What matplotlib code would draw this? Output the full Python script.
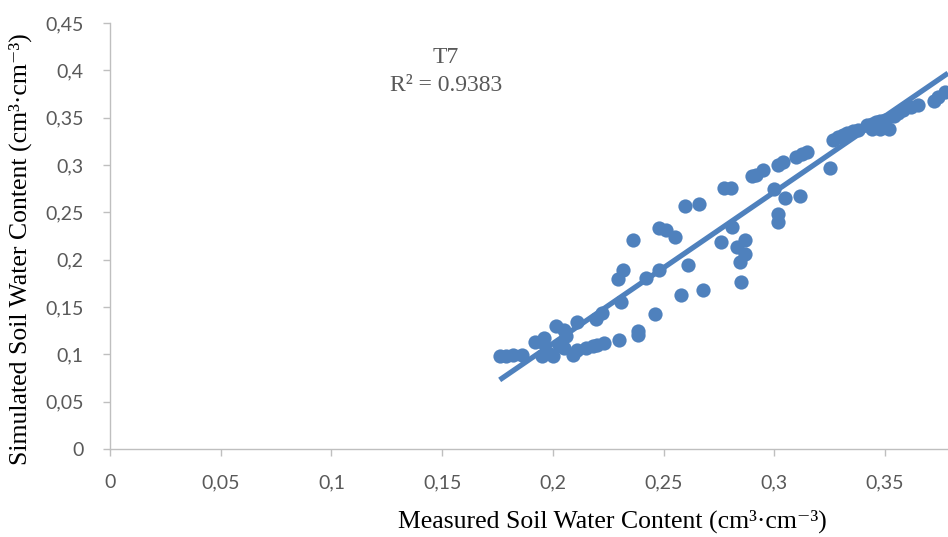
import matplotlib
matplotlib.use("Agg")
import matplotlib.pyplot as plt
import numpy as np

serif = "Liberation Serif"

measured = [0.176, 0.179, 0.182, 0.186, 0.192, 0.195, 0.196, 0.195, 0.198, 0.200,
            0.2015, 0.205, 0.206, 0.203, 0.205, 0.209, 0.211, 0.211, 0.215, 0.218,
            0.220, 0.223, 0.2195, 0.222, 0.230, 0.231, 0.2295, 0.2315, 0.2385, 0.2385,
            0.236, 0.242, 0.246, 0.248, 0.248, 0.251, 0.255, 0.258, 0.261, 0.2595,
            0.266, 0.268, 0.276, 0.2775, 0.2805, 0.281, 0.283, 0.2845, 0.285, 0.287,
            0.287, 0.290, 0.292, 0.295, 0.300, 0.3015, 0.3015, 0.3015, 0.304, 0.305,
            0.310, 0.3125, 0.315, 0.3115, 0.325, 0.3265, 0.329, 0.331, 0.333, 0.3355,
            0.338, 0.342, 0.344, 0.346, 0.348, 0.350, 0.344, 0.348, 0.352, 0.354,
            0.356, 0.358, 0.362, 0.365, 0.372, 0.374, 0.377]
simulated = [0.098, 0.098, 0.099, 0.099, 0.113, 0.113, 0.117, 0.098, 0.101, 0.098,
             0.130, 0.126, 0.119, 0.110, 0.107, 0.099, 0.134, 0.105, 0.107, 0.109,
             0.110, 0.112, 0.137, 0.144, 0.115, 0.155, 0.180, 0.189, 0.125, 0.120,
             0.221, 0.181, 0.143, 0.189, 0.233, 0.231, 0.224, 0.163, 0.194, 0.257,
             0.259, 0.168, 0.219, 0.276, 0.276, 0.234, 0.213, 0.198, 0.176, 0.221,
             0.206, 0.288, 0.289, 0.295, 0.275, 0.240, 0.248, 0.300, 0.303, 0.265,
             0.308, 0.312, 0.314, 0.267, 0.297, 0.326, 0.330, 0.332, 0.334, 0.336,
             0.337, 0.342, 0.343, 0.345, 0.347, 0.348, 0.338, 0.338, 0.338, 0.352,
             0.355, 0.358, 0.361, 0.363, 0.368, 0.372, 0.377]

x_ticks = [0, 0.05, 0.1, 0.15, 0.2, 0.25, 0.3, 0.35]
x_tick_labels = ["0", "0,05", "0,1", "0,15", "0,2", "0,25", "0,3", "0,35"]
y_ticks = [0, 0.05, 0.1, 0.15, 0.2, 0.25, 0.3, 0.35, 0.4, 0.45]
y_tick_labels = ["0", "0,05", "0,1", "0,15", "0,2", "0,25", "0,3", "0,35", "0,4", "0,45"]

trend_slope = 1.60
trend_intercept = -0.2086
series_name = "T7"
r2_text = "R\u00b2 = 0.9383"
x_title = "Measured Soil Water Content (cm\u00b3\u00b7cm\u207b\u00b3)"
y_title = "Simulated Soil Water Content (cm\u00b3\u00b7cm\u207b\u00b3)"

blue = "#4F81BD"
gray_axis = "#BFBFBF"
gray_text = "#595959"

fig = plt.figure(figsize=(9.48, 5.37), dpi=100)
ax = fig.add_axes([110/948, 1-449/537, 1-110/948, (449-23)/537])

ax.scatter(measured, simulated, s=105, color=blue, zorder=3, linewidths=0, clip_on=False)
tx = np.array([min(measured), 0.3785])
ax.plot(tx, trend_slope*tx + trend_intercept, color=blue, lw=3.8, zorder=2, solid_capstyle='butt')

ax.set_xlim(0, 0.3785)
ax.set_ylim(0, 0.45)
ax.set_xticks(x_ticks)
ax.set_xticklabels(x_tick_labels)
ax.set_yticks(y_ticks)
ax.set_yticklabels(y_tick_labels)

for s in ["top", "right"]:
    ax.spines[s].set_visible(False)
for s in ["left", "bottom"]:
    ax.spines[s].set_color(gray_axis)
    ax.spines[s].set_linewidth(1.0)
ax.tick_params(axis="both", direction="out", length=5, color=gray_axis, width=1.0,
               labelcolor=gray_text, labelsize=14)
ax.tick_params(axis="x", pad=13)
ax.tick_params(axis="y", pad=14)
for lab in ax.get_xticklabels() + ax.get_yticklabels():
    lab.set_fontfamily("Lato")

fam = [serif, "DejaVu Serif"]
fig.text(612/948, 1-521/537, x_title,
         ha="center", va="center", fontsize=18.5, family=fam, color="black")
fig.text(20/948, 1-249/537, y_title,
         ha="center", va="center", rotation=90, fontsize=18.5, family=fam, color="black")

fig.text(446/948, 1-57/537, series_name, ha="center", va="center", fontsize=17,
         family=fam, color=gray_text)
fig.text(446/948, 1-86/537, r2_text, ha="center", va="center", fontsize=17,
         family=fam, color=gray_text)

fig.savefig("out.png", dpi=100)
